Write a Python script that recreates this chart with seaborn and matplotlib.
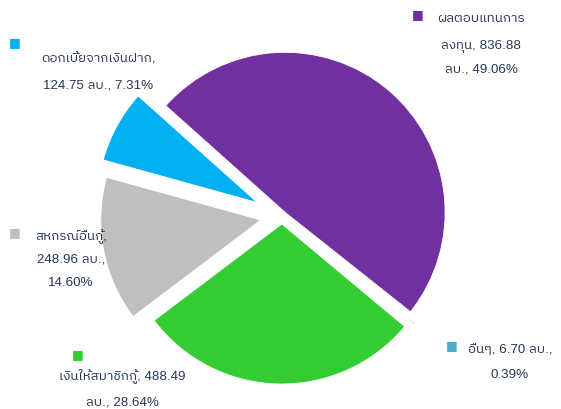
import matplotlib
matplotlib.use("Agg")
import matplotlib.pyplot as plt
import seaborn as sns
from matplotlib import font_manager
from matplotlib.ft2font import FT2Font

# --- ข้อมูลรายได้ (ล้านบาท) เรียงตามเข็มนาฬิกา ---
categories = ["ผลตอบแทนการลงทุน", "อื่นๆ", "เงินให้สมาชิกกู้", "สหกรณ์อื่นกู้", "ดอกเบี้ยจากเงินฝาก"]
values = [836.88, 6.70, 488.49, 248.96, 124.75]
percents = [49.06, 0.39, 28.64, 14.60, 7.31]

colors = ["#7030A0", "#4BACC6", "#33CC33", "#BFBFBF", "#00B0F0"]
explode = [0.03, 0.08, 0.05, 0.135, 0.175]
text_color = "#273656"

sns.set_theme(style="white")


def find_thai_font():
    # หาฟอนต์ที่มีตัวอักษรไทย
    found = []
    for f in font_manager.fontManager.ttflist:
        try:
            cmap = FT2Font(f.fname).get_charmap()
        except Exception:
            continue
        if 0x0E01 in cmap and 0x0E49 in cmap:
            found.append(f.name)
    for name in found:
        if "Thai" in name:
            return name
    return found[0] if found else None


thai = find_thai_font()
families = ["Liberation Sans"] + ([thai] if thai else []) + ["DejaVu Sans"]
plt.rcParams["font.family"] = families

# --- ขนาดภาพและการแปลงพิกเซล -> พิกัดข้อมูล ---
W, H = 561, 410
CX, CY, R = 282, 217, 160  # จุดศูนย์กลางและรัศมีวงกลม (พิกเซล)


def px(x, y):
    return (x - CX) / R, (CY - y) / R


fig = plt.figure(figsize=(W / 100, H / 100), dpi=100)
ax = fig.add_axes([0, 0, 1, 1])

wedges, _ = ax.pie(values, colors=colors, explode=explode, startangle=138.2,
                   counterclock=False,
                   wedgeprops=dict(linewidth=0.6, edgecolor="white"))
# ชิ้น "อื่นๆ" เล็กมาก ต้นฉบับแทบมองไม่เห็น
wedges[1].set_linewidth(2.6)

# --- ป้ายกำกับ ---
breaks = [["ผลตอบแทนการ", "836.88"], ["ลบ.,"], ["488.49"], ["กู้,", "ลบ.,"], ["ฝาก,"]]
label_x = [481, 510, 122, 71, 98]
label_y = [[22, 48, 73], [353, 378], [379, 406], [240, 263, 286], [63, 89]]
box_pos = [(418, 15), (452, 346), (78, 355), (15, 233), (15, 43)]

for i, cat in enumerate(categories):
    s = f"{cat}, {values[i]:.2f} ลบ., {percents[i]:.2f}%"
    for b in breaks[i]:
        s = s.replace(b, b + "\n", 1)
    lines = [l.strip() for l in s.split("\n") if l.strip()]
    for line, yy in zip(lines, label_y[i]):
        ax.text(*px(label_x[i], yy), line, ha="center", va="baseline",
                fontsize=9.6, color=text_color)
    ax.text(*px(*box_pos[i]), "■", ha="center", va="center",
            fontsize=9, color=colors[i], family="DejaVu Sans")

ax.set_xlim(-CX / R, (W - CX) / R)
ax.set_ylim(-(H - CY) / R, CY / R)
ax.set_aspect("equal")
ax.axis("off")

fig.savefig("out.png", dpi=100)
